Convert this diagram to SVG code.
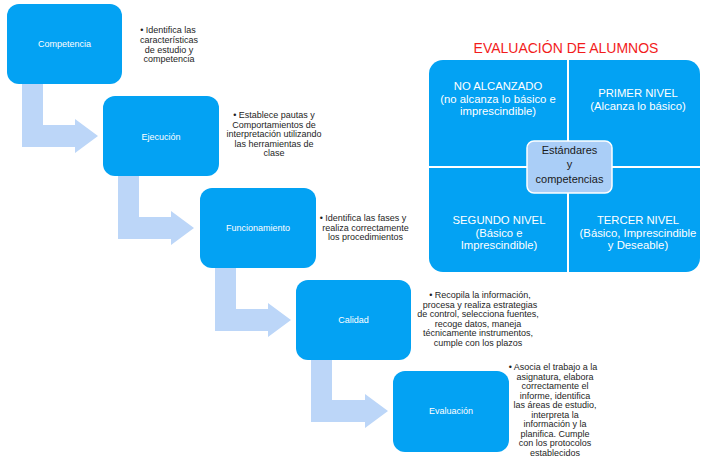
<svg xmlns="http://www.w3.org/2000/svg" width="703" height="460" viewBox="0 0 703 460">
<style>
.box{fill:#03A2F3;}
.arrow{fill:#BCD6F8;}
.bt{font-family:"Liberation Sans",Arial,sans-serif;font-size:9px;fill:#ffffff;text-anchor:middle;}
.desc{font-family:"Liberation Sans",Arial,sans-serif;font-size:9px;fill:#1e1e1e;text-anchor:middle;}
.q{fill:#03A2F3;}
.qt{font-family:"Liberation Sans",Arial,sans-serif;font-size:11.3px;fill:#ffffff;text-anchor:middle;}
.ct{font-family:"Liberation Sans",Arial,sans-serif;font-size:11px;fill:#1a1a1a;text-anchor:middle;}
.title{font-family:"Liberation Sans",Arial,sans-serif;font-size:14px;fill:#F21C1C;text-anchor:middle;}
</style>
<rect width="703" height="460" fill="#ffffff"/>
<g id="connectors">
<polygon class="arrow" points="22,82 43,82 43,125 75,125 75,119 98,136 75,153 75,147 22,147"/>
<polygon class="arrow" points="118,174 139,174 139,217 171,217 171,211 194,228 171,245 171,239 118,239"/>
<polygon class="arrow" points="215,266 236,266 236,309 268,309 268,303 291,320 268,337 268,331 215,331"/>
<polygon class="arrow" points="311,358 332,358 332,400 365,400 365,394 388,411 365,428 365,422 311,422"/>
</g>
<g id="competencia">
<rect class="box" x="7" y="4" width="115" height="80" rx="12"/>
<text class="bt" x="64.5" y="47">Competencia</text>
</g>
<g id="desc-competencia">
<text class="desc" x="168" y="33">• Identifica las</text>
<text class="desc" x="169" y="43">características</text>
<text class="desc" x="169" y="52.5">de estudio y</text>
<text class="desc" x="169" y="62">competencia</text>
</g>
<g id="ejecucion">
<rect class="box" x="103" y="96" width="116" height="80" rx="12"/>
<text class="bt" x="161" y="139.5">Ejecución</text>
</g>
<g id="desc-ejecucion">
<text class="desc" x="274" y="118">• Establece pautas y</text>
<text class="desc" x="274" y="127.5">Comportamientos de</text>
<text class="desc" x="274" y="137">interpretación utilizando</text>
<text class="desc" x="274" y="146.5">las herramientas de</text>
<text class="desc" x="274" y="156">clase</text>
</g>
<g id="funcionamiento">
<rect class="box" x="200" y="188" width="116" height="80" rx="12"/>
<text class="bt" x="258" y="231">Funcionamiento</text>
</g>
<g id="desc-funcionamiento">
<text class="desc" x="363" y="221">• Identifica las fases y</text>
<text class="desc" x="365.5" y="230.5">realiza correctamente</text>
<text class="desc" x="365.5" y="240">los procedimientos</text>
</g>
<g id="calidad">
<rect class="box" x="296" y="280" width="115" height="80" rx="12"/>
<text class="bt" x="353.5" y="322.5">Calidad</text>
</g>
<g id="desc-calidad">
<text class="desc" x="480" y="298">• Recopila la información,</text>
<text class="desc" x="480" y="307.5">procesa y realiza estrategias</text>
<text class="desc" x="478" y="317">de control, selecciona fuentes,</text>
<text class="desc" x="478" y="326.5">recoge datos, maneja</text>
<text class="desc" x="478" y="336">técnicamente instrumentos,</text>
<text class="desc" x="478" y="345.5">cumple con los plazos</text>
</g>
<g id="evaluacion">
<rect class="box" x="393" y="371" width="116" height="81" rx="12"/>
<text class="bt" x="451" y="414">Evaluación</text>
</g>
<g id="desc-evaluacion">
<text class="desc" x="553" y="370">• Asocia el trabajo a la</text>
<text class="desc" x="555" y="379.5">asignatura, elabora</text>
<text class="desc" x="555" y="389">correctamente el</text>
<text class="desc" x="555" y="398.5">informe, identifica</text>
<text class="desc" x="555" y="408">las áreas de estudio,</text>
<text class="desc" x="555" y="417.5">interpreta la</text>
<text class="desc" x="555" y="427">información y la</text>
<text class="desc" x="555" y="436.5">planifica. Cumple</text>
<text class="desc" x="555" y="446">con los protocolos</text>
<text class="desc" x="555" y="455.5">establecidos</text>
</g>
<g id="title">
<text class="title" x="566" y="52.5">EVALUACIÓN DE ALUMNOS</text>
</g>
<g id="no-alcanzado">
<path class="q" d="M567,60 H443 A14,14 0 0 0 429,74 V166 H567 Z"/>
<text class="qt" x="498" y="90">NO ALCANZADO</text>
<text class="qt" x="498" y="102.5">(no alcanza lo básico e</text>
<text class="qt" x="498" y="115">imprescindible)</text>
</g>
<g id="primer-nivel">
<path class="q" d="M569,60 H686 A14,14 0 0 1 700,74 V166 H569 Z"/>
<text class="qt" x="638" y="97">PRIMER NIVEL</text>
<text class="qt" x="638" y="109.5">(Alcanza lo básico)</text>
</g>
<g id="segundo-nivel">
<path class="q" d="M429,168 V258 A14,14 0 0 0 443,272 H567 V168 Z"/>
<text class="qt" x="499" y="224">SEGUNDO NIVEL</text>
<text class="qt" x="499" y="236.5">(Básico e</text>
<text class="qt" x="499" y="249">Imprescindible)</text>
</g>
<g id="tercer-nivel">
<path class="q" d="M569,168 H700 V258 A14,14 0 0 1 686,272 H569 Z"/>
<text class="qt" x="638" y="224">TERCER NIVEL</text>
<text class="qt" x="638" y="236.5">(Básico, Imprescindible</text>
<text class="qt" x="638" y="249">y Deseable)</text>
</g>
<g id="estandares">
<rect x="527" y="141" width="85" height="52" rx="7" fill="#AACEF7" stroke="#ffffff" stroke-width="1.5"/>
<text class="ct" x="569.5" y="154">Estándares</text>
<text class="ct" x="569.5" y="168">y</text>
<text class="ct" x="569.5" y="183">competencias</text>
</g>
</svg>
